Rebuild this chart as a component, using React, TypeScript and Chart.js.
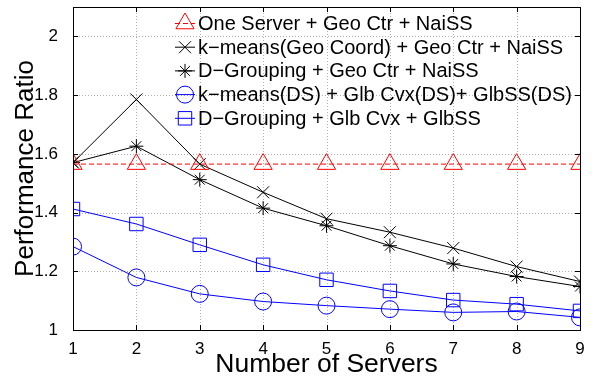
import React, { useEffect, useRef } from "react";
import { Chart, registerables } from "chart.js";
import { drawPoint } from "chart.js/helpers";

Chart.register(...registerables);

const servers = [1, 2, 3, 4, 5, 6, 7, 8, 9];
const yTicks = [1, 1.2, 1.4, 1.6, 1.8, 2];

const oneServer = [1.565, 1.565, 1.565, 1.565, 1.565, 1.565, 1.565, 1.565, 1.565];
const kmeansGeo = [1.57, 1.785, 1.565, 1.469, 1.379, 1.333, 1.279, 1.216, 1.165];
const dGroupingGeo = [1.57, 1.626, 1.512, 1.415, 1.355, 1.287, 1.225, 1.182, 1.148];
const kmeansDS = [1.284, 1.179, 1.123, 1.097, 1.083, 1.071, 1.06, 1.063, 1.043];
const dGroupingGlb = [1.412, 1.361, 1.29, 1.222, 1.171, 1.133, 1.102, 1.088, 1.065];

const labels = [
  "One Server + Geo Ctr + NaiSS",
  "k\u2212means(Geo Coord) + Geo Ctr + NaiSS",
  "D\u2212Grouping + Geo Ctr + NaiSS",
  "k\u2212means(DS) + Glb Cvx(DS)+ GlbSS(DS)",
  "D\u2212Grouping + Glb Cvx + GlbSS",
];

const FONT = "'Liberation Sans', Arial, Helvetica, sans-serif";
const PLOT_TOP = 7;

const areaPlugin = {
  id: "fixTop",
  afterLayout(chart: any) {
    const ys = chart.scales.y;
    const ca = chart.chartArea;
    ys.top = PLOT_TOP;
    ys.height = ys.bottom - PLOT_TOP;
    if (typeof ys.configure === "function") ys.configure();
    ca.top = PLOT_TOP;
    ca.height = ca.bottom - PLOT_TOP;
  },
};

const gridPlugin = {
  id: "dottedGrid",
  beforeDatasetsDraw(chart: any) {
    const { ctx, chartArea: a, scales } = chart;
    ctx.save();
    ctx.strokeStyle = "#b0b0b0";
    ctx.lineWidth = 1;
    ctx.setLineDash([1, 2]);
    ctx.beginPath();
    for (const v of servers) {
      const x = Math.round(scales.x.getPixelForValue(v)) + 0.5;
      ctx.moveTo(x, a.top);
      ctx.lineTo(x, a.bottom);
    }
    for (const v of yTicks) {
      const y = Math.round(scales.y.getPixelForValue(v)) + 0.5;
      ctx.moveTo(a.left, y);
      ctx.lineTo(a.right, y);
    }
    ctx.stroke();
    ctx.restore();
  },
};

const framePlugin = {
  id: "frame",
  afterDatasetsDraw(chart: any) {
    const { ctx, chartArea: a, scales } = chart;
    ctx.save();
    ctx.strokeStyle = "#000";
    ctx.lineWidth = 1;
    ctx.setLineDash([]);
    ctx.beginPath();
    const tl = 5;
    for (const v of servers) {
      const x = Math.round(scales.x.getPixelForValue(v)) + 0.5;
      ctx.moveTo(x, a.bottom);
      ctx.lineTo(x, a.bottom - tl);
      ctx.moveTo(x, a.top);
      ctx.lineTo(x, a.top + tl);
    }
    for (const v of yTicks) {
      const y = Math.round(scales.y.getPixelForValue(v)) + 0.5;
      ctx.moveTo(a.left, y);
      ctx.lineTo(a.left + tl, y);
      ctx.moveTo(a.right, y);
      ctx.lineTo(a.right - tl, y);
    }
    ctx.stroke();
    ctx.strokeRect(
      Math.round(a.left) + 0.5,
      Math.round(a.top) + 0.5,
      Math.round(a.right - a.left),
      Math.round(a.bottom - a.top)
    );
    ctx.restore();
  },
};

const legendPlugin = {
  id: "innerLegend",
  afterDatasetsDraw(chart: any) {
    const { ctx } = chart;
    ctx.save();
    const x0 = 175;
    const x1 = 195;
    const xm = 185;
    const yStart = 23.5;
    const dy = 23.7;
    chart.data.datasets.forEach((ds: any, i: number) => {
      const y = yStart + i * dy;
      ctx.strokeStyle = ds.borderColor;
      ctx.lineWidth = ds.borderWidth;
      ctx.setLineDash(ds.borderDash || []);
      ctx.beginPath();
      ctx.moveTo(x0, y);
      ctx.lineTo(x1, y);
      ctx.stroke();
      ctx.setLineDash([]);
      ctx.fillStyle = "rgba(0,0,0,0)";
      ctx.lineWidth = 1;
      drawPoint(
        ctx,
        { pointStyle: ds.pointStyle, radius: ds.pointRadius, rotation: 0, borderWidth: 1 },
        xm,
        y
      );
      ctx.fillStyle = "#000";
      ctx.font = `20px ${FONT}`;
      ctx.textBaseline = "middle";
      ctx.textAlign = "left";
      ctx.fillText(ds.label, 198, y + 1);
    });
    ctx.restore();
  },
};

export default function App() {
  const ref = useRef<HTMLCanvasElement>(null);

  useEffect(() => {
    document.body.style.margin = "0";
    const mk = (
      label: string,
      data: number[],
      color: string,
      style: string,
      radius: number,
      dash: number[] = []
    ) => ({
      label,
      data: servers.map((s, i) => ({ x: s, y: data[i] })),
      borderColor: color,
      backgroundColor: "rgba(0,0,0,0)",
      pointBorderColor: color,
      pointBackgroundColor: "rgba(0,0,0,0)",
      pointStyle: style,
      pointRadius: radius,
      pointBorderWidth: 1,
      borderWidth: 1,
      borderDash: dash,
      tension: 0,
    });

    const chart = new Chart(ref.current!, {
      type: "line",
      data: {
        datasets: [
          mk(labels[0], oneServer, "#ff0000", "triangle", 10.5, [5, 3]),
          mk(labels[1], kmeansGeo, "#000000", "crossRot", 8.5),
          mk(labels[2], dGroupingGeo, "#000000", "star", 7),
          mk(labels[3], kmeansDS, "#0000ff", "circle", 8.5),
          mk(labels[4], dGroupingGlb, "#0000ff", "rect", 9.5),
        ] as any,
      },
      options: {
        responsive: false,
        animation: false,
        layout: { padding: { top: 7, right: 20, left: 0, bottom: 0 } },
        plugins: { legend: { display: false }, tooltip: { enabled: false } },
        scales: {
          x: {
            type: "linear",
            min: 1,
            max: 9,
            afterBuildTicks: (s: any) => {
              s.ticks = servers.map((v) => ({ value: v }));
            },
            afterFit: (s: any) => {
              s.height = 51;
              s.paddingLeft = 0;
              s.paddingRight = 0;
            },
            ticks: {
              color: "#000",
              font: { family: FONT, size: 17 },
              padding: 1,
              maxRotation: 0,
              callback: (v: any) => String(v),
            },
            grid: { display: false },
            border: { display: false },
            title: {
              display: true,
              text: "Number of Servers",
              color: "#000",
              font: { family: FONT, size: 26.5 },
              padding: { top: 0, bottom: 0 },
            },
          },
          y: {
            type: "linear",
            min: 1,
            max: 2.1,
            afterBuildTicks: (s: any) => {
              s.ticks = yTicks.map((v) => ({ value: v }));
            },
            afterFit: (s: any) => {
              s.width = 73;
            },
            ticks: {
              color: "#000",
              font: { family: FONT, size: 17 },
              padding: 7,
              callback: (v: any) => String(Math.round(Number(v) * 10) / 10),
            },
            grid: { display: false },
            border: { display: false },
            title: {
              display: true,
              text: "Performance Ratio",
              color: "#000",
              font: { family: FONT, size: 26 },
              padding: { top: 10, bottom: 0 },
            },
          },
        },
      },
      plugins: [areaPlugin, gridPlugin, framePlugin, legendPlugin],
    });
    return () => chart.destroy();
  }, []);

  return (
    <div style={{ position: "fixed", left: 0, top: 0, width: 600, height: 381, background: "#fff" }}>
      <canvas ref={ref} width={600} height={381} style={{ display: "block" }} />
    </div>
  );
}
